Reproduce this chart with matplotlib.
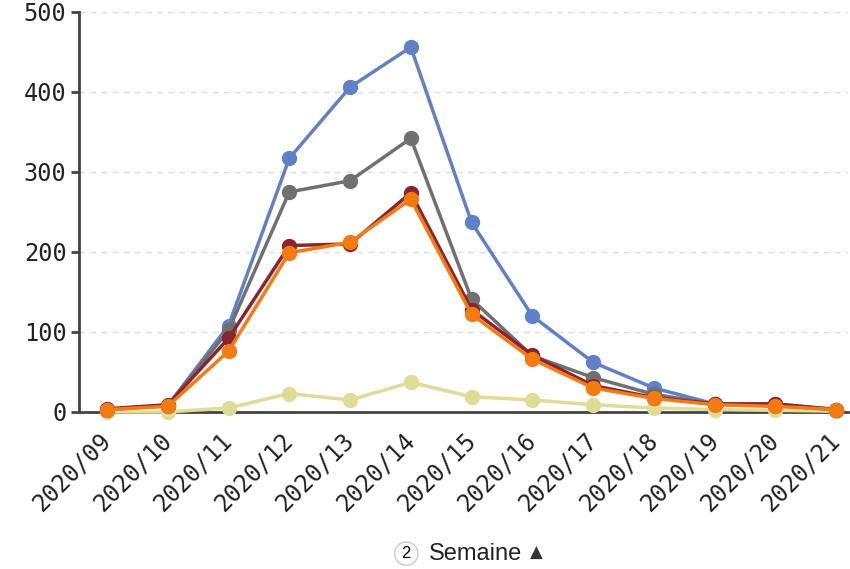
import matplotlib.pyplot as plt
import numpy as np

# données
semaines = ['2020/09', '2020/10', '2020/11', '2020/12', '2020/13', '2020/14', '2020/15',
            '2020/16', '2020/17', '2020/18', '2020/19', '2020/20', '2020/21']
serie_jaune = [0, 0, 5, 23, 15, 37, 19, 15, 9, 5, 3, 2, 1]
serie_bleue = [3, 8, 108, 317, 406, 456, 237, 120, 62, 30, 10, 8, 3]
serie_grise = [3, 8, 102, 275, 289, 342, 141, 70, 43, 22, 10, 10, 3]
serie_rouge = [4, 9, 92, 208, 210, 274, 128, 71, 33, 18, 10, 10, 3]
serie_orange = [3, 7, 76, 199, 212, 266, 122, 66, 30, 17, 9, 7, 3]
y_ticks = [0, 100, 200, 300, 400, 500]

fig = plt.figure(figsize=(8.5, 5.69), dpi=100)
ax = fig.add_axes([0.093, 0.276, 0.905, 0.703])

x = np.arange(len(semaines))
series = [
    (serie_jaune, '#dfdc98'),
    (serie_bleue, '#6180c8'),
    (serie_grise, '#707070'),
    (serie_rouge, '#8c2430'),
    (serie_orange, '#f47a12'),
]
for vals, col in series:
    ax.plot(x, vals, color=col, lw=2.5, marker='o', ms=10, clip_on=False, zorder=3)

ax.set_xlim(-0.46, 12.2)
ax.set_ylim(0, 500)
ax.set_yticks(y_ticks)
ax.set_xticks(x)
ax.set_xticklabels(semaines, rotation=45, ha='right', va='center', rotation_mode='anchor')

for lab in ax.get_xticklabels() + ax.get_yticklabels():
    lab.set_family('DejaVu Sans Mono')
    lab.set_fontsize(17)
    lab.set_color('#222222')

ax.grid(axis='y', ls=(0, (4, 4)), color='#dddddd', lw=1)
ax.set_axisbelow(True)
for s in ['top', 'right']:
    ax.spines[s].set_visible(False)
for s in ['left', 'bottom']:
    ax.spines[s].set_color('#444444')
    ax.spines[s].set_linewidth(2)
ax.tick_params(axis='y', length=6, width=2, color='#444444', pad=3)
ax.tick_params(axis='x', length=0, pad=18)

# légende de l'axe en bas
fig.text(0.478, 0.027, '2', fontsize=12, ha='center', va='center', family='Liberation Sans',
         bbox=dict(boxstyle='circle,pad=0.25', fc='white', ec='#cccccc', lw=1))
fig.text(0.505, 0.027, 'Semaine', fontsize=17, ha='left', va='center', family='Liberation Sans',
         color='#222222')
fig.text(0.623, 0.029, '\u25b2', fontsize=12, ha='left', va='center', family='DejaVu Sans',
         color='#333333')

fig.savefig('out.png', dpi=100)
